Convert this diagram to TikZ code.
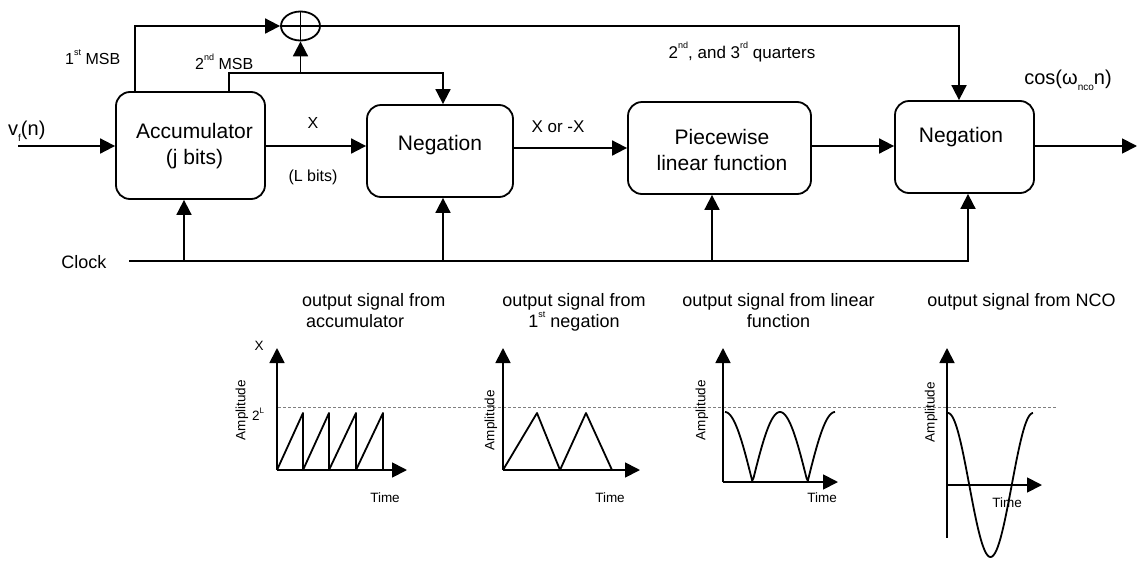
\documentclass[tikz,border=0pt]{standalone}
\usepackage{fontspec}
\setmainfont{Liberation Sans}
\usetikzlibrary{arrows.meta,shapes.geometric}

\tikzset{
  wire/.style={line width=1.8pt},
  arr/.style={wire,-{Triangle[length=15pt,width=15pt]}},
  blockbox/.style={draw,line width=1.8pt,rounded corners=14pt,inner sep=0pt},
  boxtext/.style={font=\fontsize{21}{26}\selectfont,align=center,inner sep=0pt},
  lbl/.style={font=\fontsize{16}{19}\selectfont,inner sep=0pt},
  title/.style={font=\fontsize{18}{21}\selectfont,inner sep=0pt},
  small/.style={font=\fontsize{13.5}{16}\selectfont,inner sep=0pt},
  curve/.style={line width=1.8pt,line join=round},
}
% small raised/lowered indices
\newcommand{\hisup}[1]{\raisebox{0.55em}{\fontsize{9}{10}\selectfont #1}}
\newcommand{\losub}[1]{\raisebox{-0.3em}{\fontsize{10}{11}\selectfont #1}}

\begin{document}
\begin{tikzpicture}[x=1pt,y=-1pt]
\useasboundingbox (0,0) rectangle (1138,560);

% processing blocks
\node[blockbox,minimum width=149pt,minimum height=107pt] (acc)  at (190.5,145.5) {};
\node[blockbox,minimum width=146pt,minimum height=92pt]  (neg1) at (440,151) {};
\node[blockbox,minimum width=183pt,minimum height=92pt]  (pw)   at (719.5,148) {};
\node[blockbox,minimum width=139pt,minimum height=92pt]  (neg2) at (964.5,147) {};

\node[boxtext] (accT)  at (194.5,146) {Accumulator\\(j bits)};
\node[boxtext] (neg1T) at (440,145) {Negation};
\node[boxtext] (pwT)   at (722,150) {Piecewise\\linear function};
\node[boxtext] (neg2T) at (961,137) {Negation};

% adder
\node[draw,ellipse,line width=1.8pt,minimum width=39pt,minimum height=29pt,inner sep=0pt] (add) at (300.5,26) {};
\draw[line width=1.5pt] (add.north) -- (add.south) (add.west) -- (add.east);

% signal path
\coordinate (vin)  at (18,146);
\coordinate (vout) at (1137,146);
\coordinate (br)   at (300.5,73);
\draw[arr] (vin) -- (acc.west |- vin);
\draw[arr] (acc.east |- vin) -- (neg1.west |- vin);
\draw[arr] (neg1.east |- pw.west) -- (pw.west);
\draw[arr] (pw.east |- vin) -- (neg2.west |- vin);
\draw[arr] (neg2.east |- vin) -- (vout);

% MSB paths
\draw[arr] ([xshift=-55.5pt]acc.north) |- (add.west);
\draw[arr] ([xshift=38.5pt]acc.north) |- (br) -| ([xshift=3pt]neg1.north);
\draw[arr] (br) -- (add.south);
\draw[arr] (add.east) -| ([xshift=-5.5pt]neg2.north);

% clock distribution
\coordinate (clk) at (129,261);
\draw[arr] (clk) -| ([xshift=3.5pt]neg2.south);
\draw[arr] ([xshift=-6.5pt]acc.south |- clk) -- ([xshift=-6.5pt]acc.south);
\draw[arr] ([xshift=3pt]neg1.south |- clk) -- ([xshift=3pt]neg1.south);
\draw[arr] ([xshift=-7.5pt]pw.south |- clk) -- ([xshift=-7.5pt]pw.south);

% labels
\node[font=\fontsize{20}{24}\selectfont,inner sep=0pt,anchor=west] (vfL) at (8,131) {v\losub{f}(n)};
\node[lbl,anchor=west] (m1L) at (65,57) {1\hisup{st} MSB};
\node[lbl,anchor=west] (m2L) at (195,62) {2\hisup{nd} MSB};
\node[lbl] (xL) at (313,123) {X};
\node[lbl] (lbL) at (313,177) {(L bits)};
\node[font=\fontsize{17}{20}\selectfont,inner sep=0pt] (xoL) at (558,127) {X or -X};
\node[font=\fontsize{17}{20}\selectfont,inner sep=0pt] (qL) at (742,52) {2\hisup{nd}, and 3\hisup{rd} quarters};
\node[font=\fontsize{20}{24}\selectfont,inner sep=0pt] (cosL) at (1068,80) {cos(ω\losub{nco}n)};
\node[font=\fontsize{18}{21}\selectfont,inner sep=0pt] (clkL) at (84,262) {Clock};

% plot titles
\node[title,align=left,anchor=north west] (t1) at (302,293) {output signal from\\\hspace*{4pt}accumulator};
\node[title,align=center,anchor=north] (t2) at (574,293) {output signal from\\1\hisup{st} negation};
\node[title,align=center,anchor=north] (t3) at (778.5,293) {output signal from linear\\function};
\node[title,anchor=north] (t4) at (1021.5,293) {output signal from NCO};

% common full-scale level
\coordinate (lvlA) at (278,407);
\coordinate (lvlB) at (1057,407);
\draw[gray,densely dashed,line width=0.6pt] (lvlA) -- (lvlB);

% plot 1: accumulator sawtooth
\coordinate (o1) at (277,470);
\draw[arr] (o1) -- (277,348);
\draw[arr] (o1) -- (407,470);
\draw[curve] (277,470) -- (303,413) -- (303,470) -- (329,413) -- (329,470)
  -- (356,413) -- (356,470) -- (383,413) -- (383,470);
\node[small] (x1L) at (259,346) {X};
\node[small] (l1L) at (258,414) {2\raisebox{0.5em}{\fontsize{8}{9}\selectfont L}};
\node[small,rotate=90] (a1L) at (242,410) {Amplitude};
\node[small] (tm1) at (385,498) {Time};

% plot 2: first negation
\coordinate (o2) at (503,470);
\draw[arr] (o2) -- (503,348);
\draw[arr] (o2) -- (640,470);
\draw[curve] (503,470) -- (537,413) -- (560,470) -- (586,413) -- (612,470);
\node[small,rotate=90] (a2L) at (491,420) {Amplitude};
\node[small] (tm2) at (610,498) {Time};

% plot 3: piecewise linear output
\coordinate (o3) at (723,482);
\draw[arr] (o3) -- (723,348);
\draw[arr] (o3) -- (838,482);
\draw[curve] plot[domain=0:360,samples=90] ({725+\x/360*110},{482-70*abs(cos(\x))});
\node[small,rotate=90] (a3L) at (702,410) {Amplitude};
\node[small] (tm3) at (822,498) {Time};

% plot 4: NCO output
\coordinate (o4) at (947,485);
\draw[wire] (o4) -- (947,538);
\draw[arr] (o4) -- (947,348);
\draw[arr] (o4) -- (1042,485);
\draw[curve] plot[domain=0:360,samples=90] ({948+\x/360*85},{485-72*cos(\x)});
\node[small,rotate=90] (a4L) at (931,412) {Amplitude};
\node[small] (tm4) at (1007,503) {Time};
\end{tikzpicture}
\end{document}
